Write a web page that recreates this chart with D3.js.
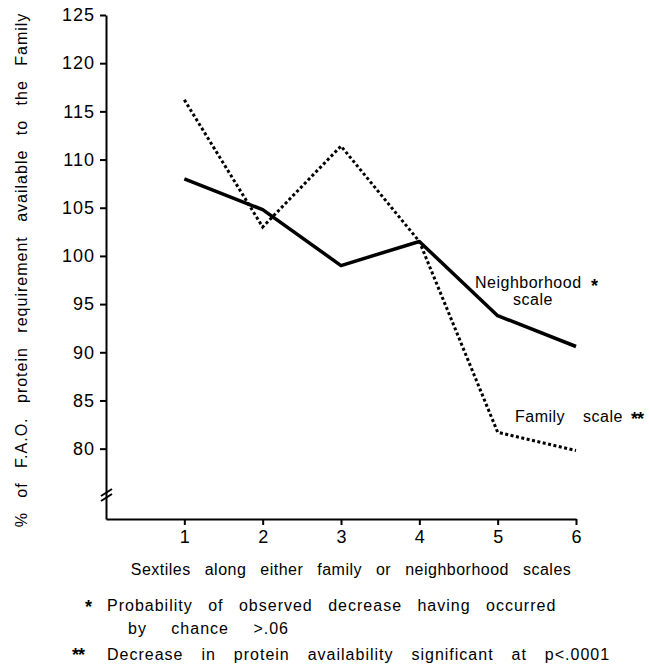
<!DOCTYPE html>
<html>
<head>
<meta charset="utf-8">
<script src="https://cdn.jsdelivr.net/npm/d3@7"></script>
<style>
  body { margin: 0; background: #fff; }
  svg text { font-family: "Liberation Sans", Arial, sans-serif; fill: #000; }
</style>
</head>
<body>
<div id="chart-area"></div>
<script>
/*
*    protein availability by sextile
*/

var sextiles = [1, 2, 3, 4, 5, 6];
var neighborhood = [108.0, 104.8, 99.0, 101.5, 93.8, 90.6];
var family = [116.2, 103.0, 111.4, 101.5, 81.7, 79.8];
var yTicks = [80, 85, 90, 95, 100, 105, 110, 115, 120, 125];

var width = 650;
var height = 670;

var svg = d3.select("#chart-area")
    .append("svg")
    .attr("width", width)
    .attr("height", height);

var x = d3.scaleLinear()
    .domain([0, 6])
    .range([106, 576]);

var y = d3.scaleLinear()
    .domain([72.7, 125])
    .range([519, 15]);

// left y axis
var yAxisCall = d3.axisLeft(y)
    .tickValues(yTicks)
    .tickSize(6)
    .tickSizeOuter(0)
    .tickPadding(5);

var yAxis = svg.append("g")
    .attr("class", "left axis")
    .attr("transform", "translate(106, 0)")
    .call(yAxisCall);

yAxis.select(".domain").attr("stroke-width", 2);
yAxis.selectAll(".tick line").attr("stroke-width", 2);
yAxis.selectAll("text")
    .attr("font-size", "18px")
    .attr("letter-spacing", "1px")
    .style("font-family", "'Liberation Sans', Arial, sans-serif");

// bottom axis
var xAxisCall = d3.axisBottom(x)
    .tickValues(sextiles)
    .tickFormat(d3.format("d"))
    .tickSize(6)
    .tickSizeOuter(0)
    .tickPadding(5);

var xAxis = svg.append("g")
    .attr("class", "bottom axis")
    .attr("transform", "translate(0, 519)")
    .call(xAxisCall);

xAxis.select(".domain").attr("stroke-width", 2);
xAxis.selectAll(".tick line").attr("stroke-width", 2);
xAxis.selectAll("text")
    .attr("font-size", "18px")
    .style("font-family", "'Liberation Sans', Arial, sans-serif");

// axis break
[0, 5].forEach((d) => {
    svg.append("line")
        .attr("x1", 101)
        .attr("y1", 501 - d)
        .attr("x2", 112)
        .attr("y2", 494 - d)
        .attr("stroke", "#000")
        .attr("stroke-width", 2);
});

var line = d3.line()
    .x((d, i) => { return x(sextiles[i]); })
    .y((d) => { return y(d); });

svg.append("path")
    .datum(neighborhood)
    .attr("fill", "none")
    .attr("stroke", "#000")
    .attr("stroke-width", 3.5)
    .attr("stroke-linejoin", "round")
    .attr("d", line);

svg.append("path")
    .datum(family)
    .attr("fill", "none")
    .attr("stroke", "#000")
    .attr("stroke-width", 3)
    .attr("stroke-dasharray", "3,2.5")
    .attr("d", line);

// series labels
svg.append("text")
    .attr("x", 475)
    .attr("y", 288)
    .attr("font-size", "16px")
    .attr("letter-spacing", "0.5px")
    .text("Neighborhood");
svg.append("text")
    .attr("x", 533)
    .attr("y", 305)
    .attr("font-size", "16px")
    .attr("letter-spacing", "0.5px")
    .attr("text-anchor", "middle")
    .text("scale");
svg.append("text")
    .attr("x", 591)
    .attr("y", 292)
    .attr("font-size", "18px")
    .attr("font-weight", "bold")
    .text("*");

svg.append("text")
    .attr("x", 515)
    .attr("y", 422)
    .attr("font-size", "16px")
    .attr("letter-spacing", "0.5px")
    .attr("word-spacing", "13px")
    .text("Family scale");
svg.append("text")
    .attr("x", 631)
    .attr("y", 425)
    .attr("font-size", "18px")
    .attr("font-weight", "bold")
    .attr("letter-spacing", "-1px")
    .text("**");

// x axis label
svg.append("text")
    .attr("class", "x axis-label")
    .attr("x", 351)
    .attr("y", 575)
    .attr("font-size", "16px")
    .attr("text-anchor", "middle")
    .attr("letter-spacing", "0.5px")
    .attr("word-spacing", "9px")
    .text("Sextiles along either family or neighborhood scales");

// y axis label
svg.append("text")
    .attr("class", "y axis-label")
    .attr("x", -270)
    .attr("y", 27)
    .attr("font-size", "16px")
    .attr("text-anchor", "middle")
    .attr("letter-spacing", "1px")
    .attr("word-spacing", "9px")
    .attr("transform", "rotate(-90)")
    .text("% of F.A.O. protein requirement available to the Family");

// footnotes
svg.append("text")
    .attr("x", 85)
    .attr("y", 613)
    .attr("font-size", "18px")
    .attr("font-weight", "bold")
    .text("*");
svg.append("text")
    .attr("x", 107)
    .attr("y", 611)
    .attr("font-size", "16px")
    .attr("letter-spacing", "1px")
    .attr("word-spacing", "10px")
    .text("Probability of observed decrease having occurred");
svg.append("text")
    .attr("x", 128)
    .attr("y", 634)
    .attr("font-size", "16px")
    .attr("letter-spacing", "1px")
    .attr("word-spacing", "19px")
    .text("by chance >.06");
svg.append("text")
    .attr("x", 72)
    .attr("y", 661)
    .attr("font-size", "18px")
    .attr("font-weight", "bold")
    .attr("letter-spacing", "-1px")
    .text("**");
svg.append("text")
    .attr("x", 107)
    .attr("y", 660)
    .attr("font-size", "16px")
    .attr("letter-spacing", "1px")
    .attr("word-spacing", "12.5px")
    .text("Decrease in protein availability significant at p<.0001");
</script>
</body>
</html>
